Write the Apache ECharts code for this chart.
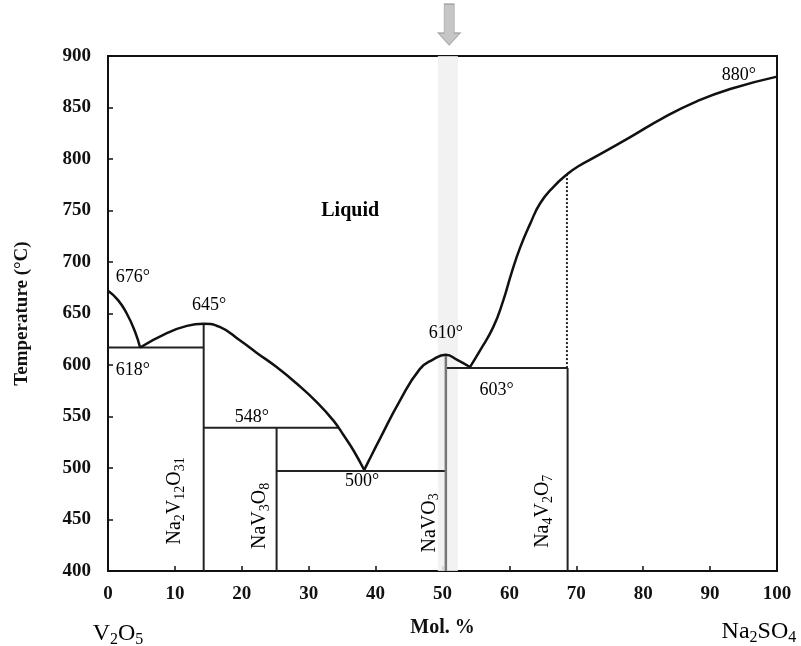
<!DOCTYPE html>
<html><head><meta charset="utf-8">
<script src="https://cdn.jsdelivr.net/npm/echarts@6/dist/echarts.min.js"></script>
<style>html,body{margin:0;padding:0;background:#fff}#c{width:801px;height:646px}</style>
</head><body><div id="c"></div>
<script>
// ---- data (mol % Na2SO4, temperature °C) ----
const liquidusA = [[0,672],[1.5,663],[2.8,650],[4,633],[4.8,617]];
const liquidusB = [[4.8,617],[8.8,631],[11.8,638],[14.3,640],[16.7,637],[19.7,624],[22.2,612],[25.2,598],[28.2,582],[31.2,564],[33.7,546],[35.2,532],[36.7,517],[38.3,498]];
const liquidusC = [[38.3,498],[38.9,506],[40.7,529],[43.6,565],[46.6,596],[48.5,605],[50.5,610],[52.2,605],[54.1,598]];
const liquidusD = [[54.1,598],[55.6,614],[57.6,637],[59.1,663],[60.3,689],[61.6,714],[63.1,737],[64.6,757],[66.6,773],[68.6,785],[70.3,793],[73.1,803],[78,821],[83,840],[88,856],[93,868],[100,880]];
const solidLines = [
  [[0,617],[14.3,617]],
  [[14.3,640],[14.3,400]],
  [[14.3,539],[34.4,539]],
  [[25.2,539],[25.2,400]],
  [[25.2,497],[50.5,497]],
  [[50.5,597],[68.7,597]],
  [[68.7,597],[68.7,400]]
];
const greyLine = [[50.5,610],[50.5,400]];
const dottedLine = [[68.6,597],[68.6,785]];
const bandRange = [49.3, 52.3];
const arrowPos = [[51.0, 930.6]];
const tempLabels = ['676°','645°','618°','548°','500°','610°','603°','880°'];
const tempLabelPos = [[3.7,685],[15.1,658],[3.7,594.5],[21.5,549],[38,487.5],[50.5,630.5],[58.1,575],[94.3,881]];
const regionLabel = ['Liquid'];
const regionLabelPos = [[36.2,750]];
const phaseFormulas = [['Na','2','V','12','O','31'],['Na','V','3','O','8'],['Na','VO','3'],['Na','4','V','2','O','7']];
const phaseLabelPos = [[10,468],[22.7,453.5],[48.1,446.7],[65,458]];
const endFormulas = [['V','2','O','5'],['Na','2','SO','4']];
const endLabelPos = [[1.5,338.7],[97.3,340.7]];
const xName = 'Mol. %';
const yName = 'Temperature (°C)';
const phaseSubs = [[0,1,0,1,0,1],[0,0,1,0,1],[0,0,1],[0,1,0,1,0,1]];
const endSubs = [[0,1,0,1],[0,1,0,1]];

const FF = '"Liberation Serif", "DejaVu Serif", serif';
function richStr(parts, subs){
  return parts.map((p,i)=> subs[i] ? '{s|'+p+'}' : '{m|'+p+'}').join('');
}
const noBorder = {textBorderWidth:0, textBorderColor:'transparent', textShadowBlur:0};
const richPhase = {
  m:Object.assign({fontFamily:FF,fontSize:20,color:'#000',lineHeight:24,verticalAlign:'middle'},noBorder),
  s:Object.assign({fontFamily:FF,fontSize:14,color:'#000',lineHeight:14,verticalAlign:'bottom'},noBorder)
};
const richEnd = {
  m:Object.assign({fontFamily:FF,fontSize:24,color:'#000',lineHeight:28,verticalAlign:'middle'},noBorder),
  s:Object.assign({fontFamily:FF,fontSize:16,color:'#000',lineHeight:16,verticalAlign:'bottom'},noBorder)
};

const series = [];
series.push({
  type:'line', data:[[bandRange[0],400]], symbol:'none', lineStyle:{width:0}, z:1, silent:true,
  markArea:{silent:true, z:1, itemStyle:{color:'rgba(240,240,240,0.85)'},
    data:[[{xAxis:bandRange[0], yAxis:400},{xAxis:bandRange[1], yAxis:900}]]}
});
series.push({
  type:'scatter', data:arrowPos, clip:false, z:5, silent:true,
  symbol:'path://M6,0 L16,0 L16,29 L22,29 L11,41 L0,29 L6,29 Z', symbolSize:[22,41],
  itemStyle:{color:'#b8b8b8', borderColor:'#9a9a9a', borderWidth:1}
});
[liquidusA, liquidusB, liquidusC, liquidusD].forEach(d=>{
  series.push({type:'line', data:d, smooth:0.5, symbol:'none', z:4,
    lineStyle:{color:'#111', width:2.5}});
});
solidLines.forEach(d=>{
  series.push({type:'line', data:d, symbol:'none', z:3, lineStyle:{color:'#222', width:2}});
});
series.push({type:'line', data:greyLine, symbol:'none', z:3, lineStyle:{color:'#777', width:2.5}});
series.push({type:'line', data:dottedLine, symbol:'none', z:3, lineStyle:{color:'#222', width:2, type:[2,2]}});
const lab = (extra)=>Object.assign({show:true, position:'inside', formatter:p=>p.name, color:'#000', opacity:1}, noBorder, extra);
series.push({type:'scatter', data:tempLabelPos.map((p,i)=>({value:p, name:tempLabels[i]})), symbolSize:1, itemStyle:{opacity:0}, z:6, silent:true,
  label:lab({fontFamily:FF, fontSize:18})});
series.push({type:'scatter', data:regionLabelPos.map((p,i)=>({value:p, name:regionLabel[i]})), symbolSize:1, itemStyle:{opacity:0}, z:6, silent:true,
  label:lab({fontFamily:FF, fontSize:20, fontWeight:'bold'})});
series.push({type:'scatter', data:phaseLabelPos.map((p,i)=>({value:p, name:richStr(phaseFormulas[i], phaseSubs[i])})), symbolSize:1, itemStyle:{opacity:0}, z:6, silent:true,
  label:lab({rotate:90, rich:richPhase})});
series.push({type:'scatter', data:endLabelPos.map((p,i)=>({value:p, name:richStr(endFormulas[i], endSubs[i])})), symbolSize:1, itemStyle:{opacity:0}, z:6, silent:true, clip:false,
  label:lab({rich:richEnd})});

const chart = echarts.init(document.getElementById('c'), null, {renderer:'canvas'});
chart.setOption({
  animation:false,
  backgroundColor:'#fff',
  grid:{left:108, right:24, top:56, bottom:75, show:true, borderColor:'#111', borderWidth:2},
  xAxis:{type:'value', min:0, max:100, interval:10,
    axisLine:{lineStyle:{color:'#111', width:2}},
    axisTick:{inside:true, length:5, lineStyle:{color:'#111', width:1.5}},
    splitLine:{show:false},
    axisLabel:{fontFamily:FF, fontWeight:'bold', fontSize:19, color:'#111', margin:14},
    name:xName, nameLocation:'middle', nameGap:47,
    nameTextStyle:{fontFamily:FF, fontWeight:'bold', fontSize:20, color:'#111'}},
  yAxis:{type:'value', min:400, max:900, interval:50,
    axisLine:{lineStyle:{color:'#111', width:2}},
    axisTick:{inside:true, length:5, lineStyle:{color:'#111', width:1.5}},
    splitLine:{show:false},
    axisLabel:{fontFamily:FF, fontWeight:'bold', fontSize:19, color:'#111', margin:17},
    name:yName, nameLocation:'middle', nameGap:76, nameRotate:90,
    nameTextStyle:{fontFamily:FF, fontWeight:'bold', fontSize:19, color:'#111'}},
  series:series
});
</script>
</body></html>
